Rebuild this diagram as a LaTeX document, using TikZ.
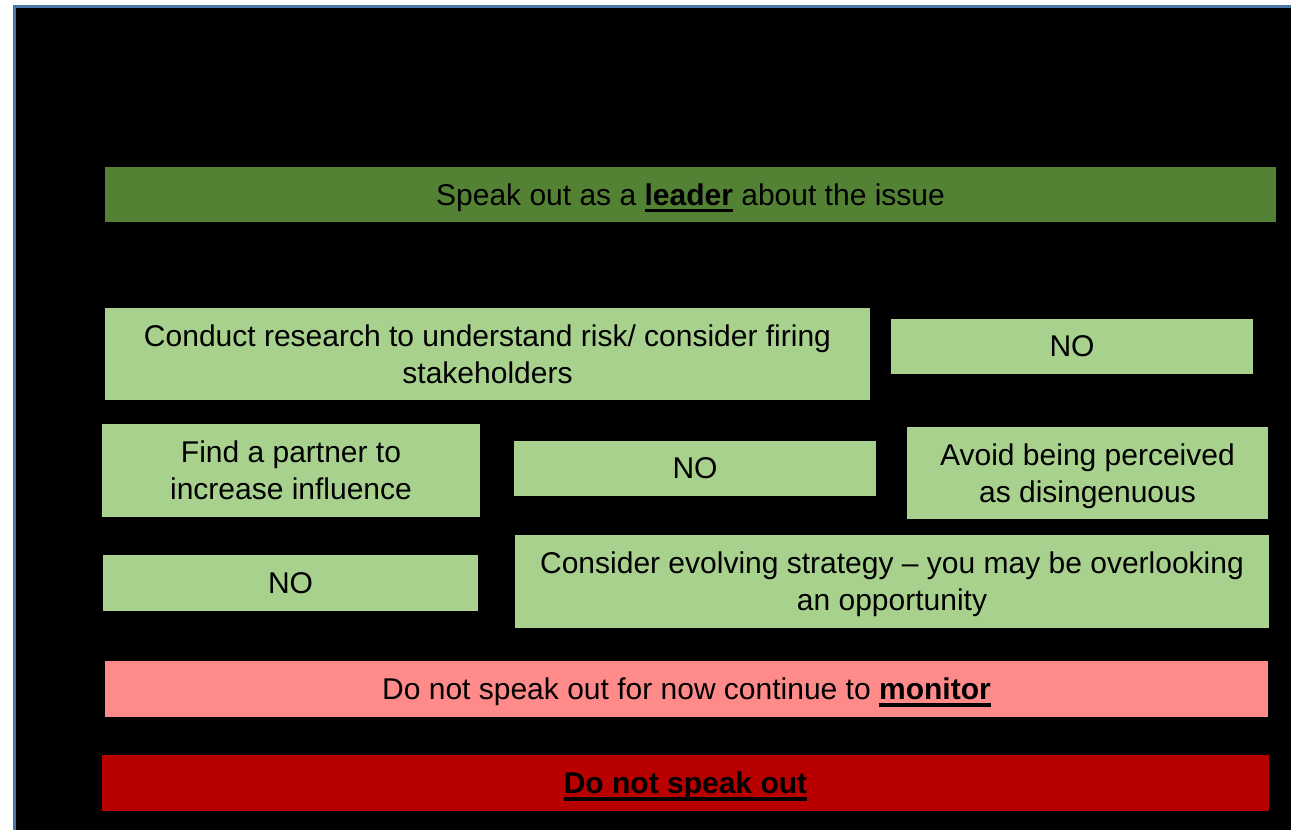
\documentclass[tikz,border=0pt]{standalone}
\usepackage{fontspec}
\setmainfont{Liberation Sans}
\usepackage{tikz}
\definecolor{dark_green}{HTML}{548235}
\definecolor{light_green}{HTML}{A9D18E}
\definecolor{soft_red}{HTML}{FF8A8A}
\definecolor{deep_red}{HTML}{B80000}
\definecolor{frame_blue}{HTML}{4A76A8}
% thick underline for the key words
\newcommand\thickul[1]{\setbox0\hbox{#1}\rlap{\rule[-3.4pt]{\wd0}{1.7pt}}\box0\relax}

\begin{document}
\begin{tikzpicture}[x=0.5pt,y=-0.5pt,
  every node/.style={inner sep=0pt,align=center,text depth=-1.5pt,font=\fontsize{15pt}{18.5pt}\selectfont},
  leaderbox/.style={rectangle,fill=dark_green,minimum height=27.5pt},
  optbox/.style={rectangle,fill=light_green},
  monitorbox/.style={rectangle,fill=soft_red,minimum height=28pt},
  stopbox/.style={rectangle,fill=deep_red,minimum height=28pt}
  ]

% page and frame
\useasboundingbox[fill=white] (0,0) rectangle (1291,830);
\fill[black] (16,8) rectangle (1291,830);
\draw[frame_blue,line width=1.5pt] (14.5,830) -- (14.5,6.5) -- (1291,6.5);

% top
\node[leaderbox,minimum width=585.5pt] (leader) at (690.5,194.5) {Speak out as a \thickul{\textbf{leader}} about the issue};

% options
\node[optbox,minimum width=382.5pt,minimum height=46pt] (research) at (487.5,354) {Conduct research to understand risk/ consider firing\\stakeholders};
\node[optbox,minimum width=181pt,minimum height=27.5pt] (no_a) at (1072,346.5) {NO};

\node[optbox,minimum width=189pt,minimum height=46.5pt] (partner) at (291,470.5) {Find a partner to\\increase influence};
\node[optbox,minimum width=181pt,minimum height=27.5pt] (no_b) at (695,468.5) {NO};
\node[optbox,minimum width=180.5pt,minimum height=46pt] (avoid) at (1087.5,473) {Avoid being perceived\\as disingenuous};

\node[optbox,minimum width=187.5pt,minimum height=28pt] (no_c) at (290.5,583) {NO};
\node[optbox,minimum width=377pt,minimum height=46.5pt] (evolve) at (892,581.5) {Consider evolving strategy -- you may be overlooking\\an opportunity};

% bottom
\node[monitorbox,minimum width=581.5pt] (monitor) at (686.5,689) {Do not speak out for now continue to \thickul{\textbf{monitor}}};
\node[stopbox,minimum width=583.5pt] (stop) at (685.5,783) {\thickul{\textbf{Do not speak out}}};

\end{tikzpicture}
\end{document}
